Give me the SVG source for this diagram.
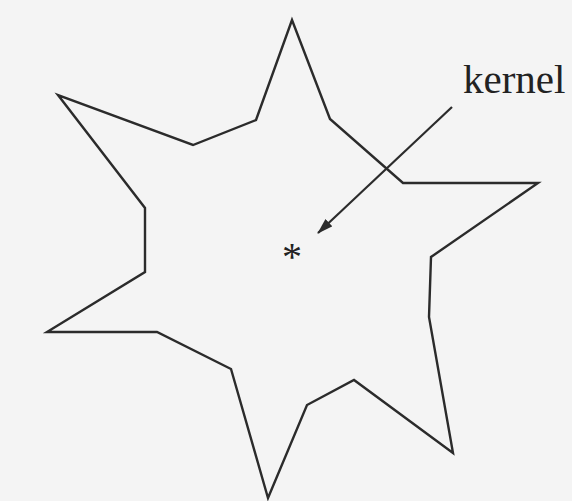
<svg xmlns="http://www.w3.org/2000/svg" width="572" height="501" viewBox="0 0 572 501">
<style>
.shape{fill:none;stroke:#2b2b2b;stroke-width:2.4;stroke-linejoin:miter}
.conn{fill:none;stroke:#2b2b2b;stroke-width:2.2}
.lbl{font-family:"Liberation Serif","Times New Roman",serif;fill:#222}
</style>
<defs>
<marker id="ah" markerWidth="16" markerHeight="10" refX="15" refY="5" orient="auto" markerUnits="userSpaceOnUse" viewBox="0 0 16 10">
<path d="M0,0 L16,5 L0,10 Z" fill="#2b2b2b"/>
</marker>
</defs>
<rect width="572" height="501" fill="#f4f4f4"/>
<g id="star">
<polygon class="shape" points="292,20 330,119 403,183 538,183 431,257 429,317 453,453 354,380 307,405 268,498 231,369 157,332 47,332 145,272 145,208 58,95 193,145 256,120"/>
</g>
<g id="kernel-point">
<text class="lbl" x="292" y="270" font-size="40" text-anchor="middle">*</text>
</g>
<g id="kernel-label">
<text class="lbl" x="463" y="93" font-size="41">kernel</text>
</g>
<g id="connectors">
<line class="conn" x1="452" y1="107" x2="318" y2="233" marker-end="url(#ah)"/>
</g>
</svg>
